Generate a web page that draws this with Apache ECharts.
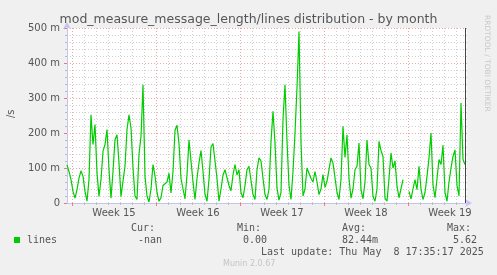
<!DOCTYPE html>
<html>
<head>
<meta charset="utf-8">
<script src="https://cdn.jsdelivr.net/npm/echarts@6/dist/echarts.min.js"></script>
<style>
html,body{margin:0;padding:0;background:#f0f0f0;}
#c{width:497px;height:275px;}
</style>
</head>
<body>
<div id="c"></div>
<script>
// ---- data (hours relative to Sun Apr 6 2025 00:00, one sample every 4 h) ----
var startHour = -10;
var stepHours = 4;
var linesValues = [
 109,90,67,33,14,38,71,92,76,33,
 5,67,252,167,224,86,19,67,148,167,
 210,95,14,90,181,195,114,19,14,105,
 210,252,215,100,20,10,140,190,338,76,
 20,3,40,110,78,30,5,15,50,45,
 60,85,29,90,208,222,170,70,40,12,
 80,180,175,60,10,70,115,150,90,25,
 5,67,160,170,170,70,5,40,80,95,
 95,50,35,80,110,80,95,29,15,50,
 95,105,110,24,10,95,129,120,70,24,
 10,40,176,262,171,43,8,30,240,338,
 176,50,10,90,200,330,490,176,20,40,
 100,85,70,60,90,60,24,40,81,45,
 62,60,129,114,119,30,10,67,219,130,
 195,70,14,40,95,105,171,38,12,60,
 180,110,100,19,5,40,176,150,133,14,
 5,70,143,100,120,48,15,20,67,null,
 null,33,12,40,67,38,105,40,10,30,
 76,129,200,52,15,20,124,110,165,30,
 5,60,100,133,152,50,20,286,124,110
];
var dayTicks = [0,24,48,72,96,120,144,168,192,216,240,264,288,312,336,360,384,408,432,456,480,504,528,552,576,600,624,648,672,696,720,744,768];
var weekStarts = [0,168,336,504,672];
var weekMids = [84,252,420,588,756];
var weekLabels = ['Week 15','Week 16','Week 17','Week 18','Week 19'];
var xMin = -10, xMax = 790;
var nowHour = 787.4;
var legendName = 'lines';
var statHeads = ['Cur:','Min:','Avg:','Max:'];
var statValues = ['-nan','0.00','82.44m','5.62'];
var lastUpdate = 'Last update: Thu May  8 17:35:17 2025';

var seriesData = linesValues.map(function(v,i){ return [startHour + i*stepHours, v]; });

var chart = echarts.init(document.getElementById('c'), null, {renderer:'canvas'});
var mono = '"DejaVu Sans Mono", monospace';
var sans = '"DejaVu Sans", sans-serif';
var txtColor = '#555';
var axisBlue = '#c4c4f0';
var redGrid = '#efa6a6';
var grayGrid = '#d0d0d0';

var graphics = [
  {type:'text', left:'center', top:13, style:{text:'mod_measure_message_length/lines distribution - by month', font:'12.5px '+sans, fill:'#555'}},
  {type:'text', x:491, y:15, rotation:-Math.PI/2, style:{text:'RRDTOOL / TOBI OETIKER', font:'7.5px '+sans, fill:'#c8c8c8'}},
  {type:'rect', shape:{x:14, y:237, width:6, height:6}, style:{fill:'#00cc00'}},
  {type:'text', x:27, y:235, style:{text:legendName, font:'10px '+mono, fill:txtColor}},
  {type:'text', x:138, y:235, style:{text:statValues[0], font:'10px '+mono, fill:txtColor}},
  {type:'text', x:243, y:235, style:{text:statValues[1], font:'10px '+mono, fill:txtColor}},
  {type:'text', x:342, y:235, style:{text:statValues[2], font:'10px '+mono, fill:txtColor}},
  {type:'text', x:453, y:235, style:{text:statValues[3], font:'10px '+mono, fill:txtColor}},
  {type:'text', x:131, y:223, style:{text:statHeads[0], font:'10px '+mono, fill:txtColor}},
  {type:'text', x:237, y:223, style:{text:statHeads[1], font:'10px '+mono, fill:txtColor}},
  {type:'text', x:342, y:223, style:{text:statHeads[2], font:'10px '+mono, fill:txtColor}},
  {type:'text', x:447, y:223, style:{text:statHeads[3], font:'10px '+mono, fill:txtColor}},
  {type:'text', x:261, y:247, style:{text:lastUpdate, font:'10px '+mono, fill:txtColor}},
  {type:'text', x:223, y:260, style:{text:'Munin 2.0.67', font:'8px '+sans, fill:'#c4c4c4'}},
  {type:'text', x:6, y:118, rotation:Math.PI/2, style:{text:'/s', font:'10px '+sans, fill:txtColor}}
];

chart.setOption({
  animation:false,
  backgroundColor:'#f0f0f0',
  grid:{left:67, top:28, width:400, height:175, show:true, backgroundColor:'#ffffff', borderWidth:0},
  xAxis:[
    {type:'value', min:xMin, max:xMax, position:'bottom',
     axisLine:{show:true, onZero:false, lineStyle:{color:axisBlue, width:1}, symbol:['none','arrow'], symbolSize:[6,7], symbolOffset:[0,5]},
     axisTick:{show:true, customValues:dayTicks, length:2, lineStyle:{color:'#bbbbbb'}},
     axisLabel:{show:true, customValues:weekMids, margin:5, color:txtColor, fontFamily:sans, fontSize:10,
       formatter:function(v){ var k = weekMids.indexOf(v); return k>=0 ? weekLabels[k] : ''; }},
     splitLine:{show:true, lineStyle:{color:grayGrid, type:[1,2], width:1}}
    },
    {type:'value', min:xMin, max:xMax, position:'bottom',
     axisLine:{show:false},
     axisTick:{show:true, customValues:weekStarts, length:3, lineStyle:{color:'#ee7777'}},
     axisLabel:{show:false},
     splitLine:{show:true, lineStyle:{color:redGrid, type:[1,2], width:1}}
    }
  ],
  yAxis:{type:'value', min:0, max:500, interval:100,
    axisLine:{show:true, onZero:false, lineStyle:{color:axisBlue, width:1}, symbol:['none','arrow'], symbolSize:[6,7], symbolOffset:[0,6]},
    axisTick:{show:true, length:3, lineStyle:{color:'#ee7777'}},
    minorTick:{show:true, splitNumber:5, length:2, lineStyle:{color:'#bbbbbb'}},
    axisLabel:{margin:7, color:txtColor, fontFamily:sans, fontSize:10,
      formatter:function(v){ return v===0 ? '0' : v + ' m'; }},
    splitLine:{show:true, lineStyle:{color:redGrid, type:[1,2], width:1}},
    minorSplitLine:{show:true, lineStyle:{color:grayGrid, type:[1,2], width:1}}
  },
  series:[{
    type:'line', name:legendName, xAxisIndex:0, data:seriesData,
    showSymbol:false, symbol:'none', connectNulls:false,
    lineStyle:{color:'#00cc00', width:1.2},
    markLine:{silent:true, symbol:'none', label:{show:false},
      lineStyle:{color:'#444444', type:'solid', width:1},
      data:[{xAxis:nowHour}]}
  }],
  graphic:graphics
});
</script>
</body>
</html>
